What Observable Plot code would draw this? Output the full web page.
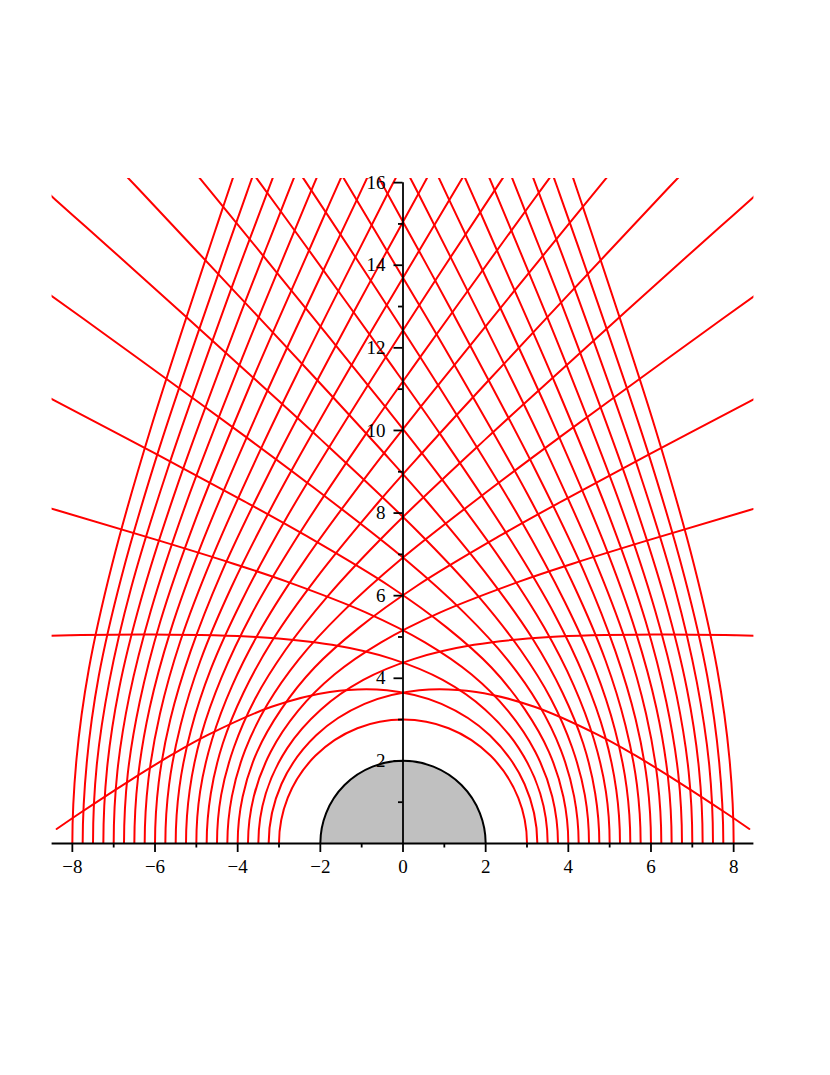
<!DOCTYPE html>
<html><head><meta charset="utf-8">
<script src="https://cdn.jsdelivr.net/npm/d3@7"></script>
<script src="https://cdn.jsdelivr.net/npm/@observablehq/plot@0.6"></script>
<style>html,body{margin:0;padding:0;background:#fff;overflow:hidden}</style>
</head><body><div id="chart"></div>
<script>
// Light rays around a black hole (M = 1): each ray starts perpendicular to the x-axis at x = r0.
// Points, right-hand family; the left-hand family is its mirror image.
const ray325 = [[2.94,-1.44],[3.25,0],[2.94,1.44],[2.10,2.62],[0.93,3.38],[-0.39,3.71],[-1.77,3.67],[-3.18,3.31],[-4.72,2.63],[-5.59,2.15],[-6.60,1.53],[-7.84,0.72],[-8.38,0.35]];
const ray35  = [[3.32,-1.21],[3.5,0],[3.32,1.21],[2.80,2.31],[1.99,3.24],[0.96,3.96],[-0.27,4.47],[-1.72,4.81],[-3.55,5.00],[-6.14,5.06],[-8.07,5.04],[-10.94,4.97]];
const ray375 = [[3.61,-1.14],[3.75,0],[3.61,1.14],[3.20,2.22],[2.54,3.21],[1.66,4.09],[0.53,4.87],[-0.89,5.59],[-2.81,6.34],[-4.12,6.78],[-5.86,7.32],[-8.37,8.07],[-12.53,9.27]];
const ray4   = [[3.88,-1.13],[4,0],[3.88,1.13],[3.53,2.22],[2.94,3.26],[2.14,4.26],[1.07,5.22],[-0.34,6.24],[-2.38,7.47],[-3.85,8.29],[-5.92,9.40],[-8.38,10.70],[-9.18,11.12]];
const ray425 = [[4.14,-1.14],[4.25,0],[4.14,1.14],[3.82,2.26],[3.28,3.37],[2.52,4.46],[1.48,5.59],[0.05,6.88],[-2.14,8.60],[-3.81,9.85],[-6.32,11.68],[-7.74,12.71],[-9.57,14.02]];
const ray45  = [[4.40,-1.17],[4.5,0],[4.40,1.17],[4.09,2.33],[3.58,3.50],[2.84,4.69],[1.82,5.99],[0.35,7.56],[-2.03,9.82],[-3.97,11.59],[-7.10,14.42],[-7.99,15.21],[-9.01,16.13]];
const ray475 = [[4.65,-1.21],[4.75,0],[4.65,1.21],[4.36,2.42],[3.86,3.65],[3.14,4.95],[2.10,6.42],[0.58,8.28],[-0.52,9.52],[-2.04,11.18],[-4.94,14.29],[-6.42,15.87],[-7.33,16.82]];
const ray5   = [[4.91,-1.25],[5,0],[4.91,1.25],[4.62,2.52],[4.13,3.83],[3.41,5.24],[2.36,6.88],[0.76,9.06],[-0.44,10.59],[-2.16,12.72],[-4.23,15.27],[-5.70,17.06]];
const ray525 = [[5.16,-1.30],[5.25,0],[5.16,1.30],[4.88,2.63],[4.39,4.02],[3.67,5.54],[2.59,7.37],[0.90,9.91],[-0.42,11.78],[-2.39,14.52],[-3.50,16.05],[-4.93,18.00]];
const ray55  = [[5.41,-1.36],[5.5,0],[5.41,1.36],[5.13,2.75],[4.65,4.22],[3.91,5.86],[2.81,7.90],[1.01,10.84],[-0.82,13.69],[-2.19,15.77],[-2.76,16.63]];
const ray575 = [[5.66,-1.42],[5.75,0],[5.66,1.42],[5.38,2.87],[4.90,4.43],[4.15,6.21],[3.01,8.46],[1.08,11.87],[-0.17,13.98],[-1.46,16.15],[-1.99,17.03]];
const ray6   = [[5.91,-1.48],[6,0],[5.91,1.48],[5.63,3.00],[5.14,4.65],[4.39,6.56],[3.20,9.05],[1.12,13.00],[0.49,14.16],[-0.28,15.56],[-0.72,16.37]];
const ray625 = [[6.16,-1.54],[6.25,0],[6.16,1.54],[5.88,3.14],[5.39,4.89],[4.61,6.94],[3.38,9.68],[2.45,11.60],[1.13,14.24],[0.42,15.64],[0.00,16.45]];
const ray65  = [[6.41,-1.61],[6.5,0],[6.41,1.61],[6.13,3.28],[5.63,5.13],[4.84,7.33],[3.55,10.36],[2.56,12.53],[1.10,15.62],[0.72,16.43]];
const ray675 = [[6.66,-1.68],[6.75,0],[6.66,1.68],[6.37,3.43],[5.87,5.38],[5.06,7.74],[3.71,11.07],[2.37,14.14],[1.77,15.51],[1.03,17.17]];
const ray7   = [[6.91,-1.75],[7,0],[6.91,1.75],[6.62,3.58],[6.10,5.64],[5.27,8.17],[3.86,11.83],[2.98,13.98],[2.42,15.33],[2.10,16.09],[1.74,16.93]];
const ray725 = [[7.16,-1.82],[7.25,0],[7.16,1.82],[6.87,3.74],[6.34,5.90],[5.48,8.61],[4.00,12.64],[3.05,15.07],[2.44,16.62]];
const ray75  = [[7.41,-1.89],[7.5,0],[7.41,1.89],[7.11,3.90],[6.58,6.18],[5.69,9.08],[4.13,13.50],[3.39,15.48],[3.10,16.25]];
const ray775 = [[7.65,-1.97],[7.75,0],[7.65,1.97],[7.36,4.06],[6.81,6.46],[5.90,9.56],[4.25,14.42],[3.75,15.84],[3.46,16.65]];
const ray8   = [[7.90,-2.04],[8,0],[7.90,2.04],[7.60,4.23],[7.04,6.75],[6.10,10.06],[4.36,15.39],[4.10,16.16]];

const photonSphereRadius = 3;   // circular ray (r0 = 3)
const horizonRadius = 2;        // grey half-disc

const xMajorTicks = [-8,-6,-4,-2,0,2,4,6,8];
const xTickLabels = ["−8","−6","−4","−2","0","2","4","6","8"];
const xMinorTicks = [-7,-5,-3,-1,1,3,5,7];
const yMajorTicks = [2,4,6,8,10,12,14,16];
const yTickLabels = ["2","4","6","8","10","12","14","16"];
const yMinorTicks = [1,3,5,7,9,11,13,15];

// layout
const W = 830, H = 1075, ML = 51.6, MR = 76.6, MT = 178, MB = 232;
const xDomain = [-8.49, 8.49], yDomain = [0, 16.1];
const pxX = (W - ML - MR) / (xDomain[1] - xDomain[0]);
const pxY = (H - MT - MB) / (yDomain[1] - yDomain[0]);
const majorLen = 9, minorLen = 4.5;
const serif = "'Liberation Serif', 'Times New Roman', Times, serif";

const rays = [ray325, ray35, ray375, ray4, ray425, ray45, ray475, ray5, ray525, ray55, ray575,
              ray6, ray625, ray65, ray675, ray7, ray725, ray75, ray775, ray8];
const rayTable = [];
rays.forEach((ray, i) => {
  for (const side of [1, -1]) {
    ray.forEach(([x, y]) => rayTable.push({x: side * x, y, id: `${i}_${side}`}));
  }
});
const origin = [{x: 0, y: 0}];
const xLab = xMajorTicks.map((v, i) => ({v, label: xTickLabels[i]}));
const yLab = yMajorTicks.map((v, i) => ({v, label: yTickLabels[i]}));

const chart = Plot.plot({
  width: W, height: H,
  marginLeft: ML, marginRight: MR, marginTop: MT, marginBottom: MB,
  x: {domain: xDomain, axis: null},
  y: {domain: yDomain, axis: null},
  style: {background: "white", fontFamily: serif, fontSize: "19px", color: "black"},
  marks: [
    Plot.line(rayTable, {x: "x", y: "y", z: "id", stroke: "#ff0000", strokeWidth: 2, curve: "catmull-rom", clip: true}),
    Plot.dot(origin, {x: "x", y: "y", r: photonSphereRadius * pxX, fill: "none", stroke: "#ff0000", strokeWidth: 2, clip: true}),
    Plot.dot(origin, {x: "x", y: "y", r: horizonRadius * pxX, fill: "#c0c0c0", stroke: "black", strokeWidth: 2, clip: true}),
    Plot.ruleY([0], {stroke: "black", strokeWidth: 1.8}),
    Plot.ruleX([0], {y1: 0, y2: d3.max(yMajorTicks), stroke: "black", strokeWidth: 1.8}),
    Plot.ruleX(xMajorTicks, {x: d => d, y1: 0, y2: -majorLen / pxY, stroke: "black", strokeWidth: 1.8}),
    Plot.ruleX(xMinorTicks, {x: d => d, y1: 0, y2: -minorLen / pxY, stroke: "black", strokeWidth: 1.8}),
    Plot.ruleY(yMajorTicks, {y: d => d, x1: -majorLen / pxX, x2: 0, stroke: "black", strokeWidth: 1.8}),
    Plot.ruleY(yMinorTicks, {y: d => d, x1: -minorLen / pxX, x2: 0, stroke: "black", strokeWidth: 1.8}),
    Plot.text(xLab, {x: "v", y: 0, text: "label", dy: 23, fontSize: 19, fontFamily: serif, fill: "black"}),
    Plot.text(yLab, {x: 0, y: "v", text: "label", textAnchor: "end", dx: -17.5, fontSize: 19, fontFamily: serif, fill: "black"})
  ]
});
document.getElementById("chart").appendChild(chart);
</script>
</body></html>
